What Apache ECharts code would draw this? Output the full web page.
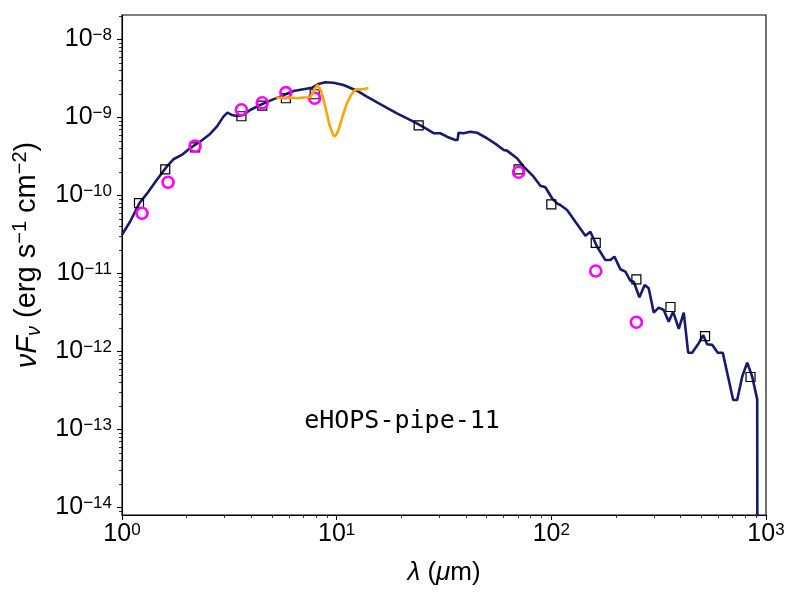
<!DOCTYPE html>
<html>
<head>
<meta charset="utf-8">
<script src="https://cdn.jsdelivr.net/npm/echarts@6/dist/echarts.min.js"></script>
<style>html,body{margin:0;padding:0;background:#fff}#c{width:800px;height:600px}</style>
</head>
<body>
<div id="c"></div>
<script>
// Model SED (navy line): wavelength (micron) and nuFnu (erg s^-1 cm^-2)
const modelWave = [1.0,1.09,1.204,1.304,1.451,1.616,1.735,1.898,2.075,2.31,2.572,2.764,2.968,3.097,3.246,3.425,3.678,3.951,4.399,4.898,5.453,6.289,7.002,7.66,8.228,8.84,9.663,10.76,12.43,13.83,15.95,19.09,22.8,25.4,28.27,30.38,32.65,35.68,36.58,36.97,39.0,41.92,45.04,50.14,55.84,59.93,62.15,69.2,74.3,82.7,88.9,93.8,100.8,106.3,110.1,118.4,129.4,144.1,152.0,163.4,178.6,188.4,196.7,209.8,221.3,233.5,242.0,257.2,272.3,284.2,299.9,316.4,333.9,352.3,369.3,392.4,413.9,433.9,452.9,486.1,509.6,531.9,561.4,596.2,629.0,703.3,734.1,774.5,817.5,862.6,910.0,913.0];
const modelFlux = [3.15e-11,4.62e-11,7.96e-11,1.05e-10,1.585e-10,2.35e-10,2.92e-10,3.32e-10,4.04e-10,4.91e-10,6.17e-10,7.64e-10,1.028e-9,1.156e-9,1.08e-9,1.05e-9,1.08e-9,1.25e-9,1.45e-9,1.65e-9,1.855e-9,2.19e-9,2.31e-9,2.41e-9,2.70e-9,2.84e-9,2.80e-9,2.62e-9,2.21e-9,1.855e-9,1.49e-9,1.135e-9,8.85e-10,7.52e-10,6.30e-10,6.30e-10,5.69e-10,5.16e-10,5.16e-10,6.40e-10,6.30e-10,6.59e-10,6.40e-10,5.43e-10,4.46e-10,3.85e-10,3.77e-10,3.01e-10,2.35e-10,1.746e-10,1.34e-10,1.277e-10,9.23e-11,7.96e-11,7.57e-11,6.53e-11,4.62e-11,3.06e-11,3.44e-11,2.21e-11,1.49e-11,1.49e-11,1.65e-11,1.135e-11,1.057e-11,8.11e-12,7.87e-12,4.97e-12,7.15e-12,6.49e-12,3.16e-12,3.66e-12,3.41e-12,2.42e-12,3.25e-12,1.95e-12,3.16e-12,9.68e-13,9.68e-13,1.28e-12,1.63e-12,1.24e-12,1.22e-12,9.68e-13,9.68e-13,2.39e-13,2.39e-13,4.76e-13,7.21e-13,4.76e-13,2.44e-13,1e-16];

// IRS spectrum (orange line)
const irsWave = [5.21,5.65,6.07,6.52,6.98,7.52,7.77,7.94,8.14,8.33,8.53,8.74,9.0,9.23,9.50,9.73,9.95,10.2,10.5,10.76,11.13,11.56,11.94,12.33,12.87,13.34,13.73,14.07];
const irsFlux = [1.82e-9,1.77e-9,1.81e-9,1.77e-9,1.81e-9,1.82e-9,2.07e-9,2.38e-9,2.62e-9,2.39e-9,2.05e-9,1.585e-9,1.135e-9,8.28e-10,6.59e-10,5.73e-10,5.98e-10,6.93e-10,9.04e-10,1.135e-9,1.49e-9,1.855e-9,2.13e-9,2.31e-9,2.30e-9,2.31e-9,2.36e-9,2.39e-9];

// Model photometry (black squares)
const sqWave = [1.20,1.59,2.19,3.6,4.5,5.8,7.9,24.1,70.4,100,161,249,359,520,847];
const sqFlux = [8.0e-11,2.17e-10,4.16e-10,1.04e-9,1.42e-9,1.77e-9,1.99e-9,7.96e-10,2.17e-10,7.7e-11,2.47e-11,8.45e-12,3.73e-12,1.58e-12,4.72e-13];

// Observed photometry (magenta circles)
const obsWave = [1.24,1.64,2.19,3.6,4.5,5.8,7.9,70.4,161,249];
const obsFlux = [5.93e-11,1.48e-10,4.33e-10,1.26e-9,1.55e-9,2.09e-9,1.77e-9,1.99e-10,1.08e-11,2.38e-12];

// Axis decades (log10)
const xDecades = [0,1,2,3];
const yDecades = [-14,-13,-12,-11,-10,-9,-8];
const xRange = [0, 3];
const yRange = [-14.095, -7.685];

const L = Math.log10;
const pairs = (xs, ys) => xs.map((x, i) => [L(x), L(ys[i])]);

function minorTicks(lo, hi) {
  const out = [];
  for (let d = Math.floor(lo) - 1; d <= Math.ceil(hi); d++) {
    for (let k = 2; k <= 9; k++) {
      const v = d + L(k);
      if (v > lo && v < hi) out.push(v);
    }
  }
  return out;
}

const FONT = '"Liberation Sans", Arial, Helvetica, sans-serif';
const richTick = {
  b: { fontSize: 25, fontFamily: FONT, color: '#000', lineHeight: 25 },
  s: { fontSize: 17, fontFamily: FONT, color: '#000', verticalAlign: 'top', lineHeight: 17 }
};

const chart = echarts.init(document.getElementById('c'), null, { renderer: 'canvas' });
chart.setOption({
  animation: false,
  backgroundColor: '#fff',
  grid: { left: 122, top: 15, width: 644, height: 500, show: true, borderColor: '#000', borderWidth: 1.1, backgroundColor: 'transparent', containLabel: false },
  xAxis: [
    {
      type: 'value', min: xRange[0], max: xRange[1], position: 'bottom',
      axisLine: { show: true, lineStyle: { color: '#000', width: 1.1 } },
      axisTick: { show: true, customValues: xDecades, length: 5, lineStyle: { color: '#000', width: 1.1 } },
      axisLabel: { show: true, customValues: xDecades, margin: 7, formatter: v => '{b|10}{s|' + v + '}', rich: richTick },
      splitLine: { show: false },
      name: '{i|λ}{t| (}{i|μ}{t|m)}', nameLocation: 'middle', nameGap: 45,
      nameTextStyle: { rich: {
        i: { fontSize: 26, fontFamily: FONT, fontStyle: 'italic', color: '#000' },
        t: { fontSize: 26, fontFamily: FONT, color: '#000' } } }
    },
    {
      type: 'value', min: xRange[0], max: xRange[1], position: 'bottom', gridIndex: 0,
      axisLine: { show: false },
      axisTick: { show: true, customValues: minorTicks(xRange[0], xRange[1]), length: 3, lineStyle: { color: '#000', width: 0.8 } },
      axisLabel: { show: false }, splitLine: { show: false }
    }
  ],
  yAxis: [
    {
      type: 'value', min: yRange[0], max: yRange[1], position: 'left',
      axisLine: { show: true, lineStyle: { color: '#000', width: 1.1 } },
      axisTick: { show: true, customValues: yDecades, length: 5, lineStyle: { color: '#000', width: 1.1 } },
      axisLabel: { show: true, customValues: yDecades, margin: 10, formatter: v => '{b|10}{s|−' + Math.abs(v) + '}', rich: richTick },
      splitLine: { show: false },
      name: '{i|νF}{sub|ν}{t| (erg s}{sup|−1}{t| cm}{sup|−2}{t|)}', nameLocation: 'middle', nameGap: 68, nameRotate: 90,
      nameTextStyle: { padding: [0, 0, 0, 20], rich: {
        i: { fontSize: 29, fontFamily: FONT, fontStyle: 'italic', color: '#000', lineHeight: 34 },
        sub: { fontSize: 20, fontFamily: FONT, fontStyle: 'italic', color: '#000', verticalAlign: 'bottom', lineHeight: 20 },
        t: { fontSize: 29, fontFamily: FONT, color: '#000', lineHeight: 34 },
        sup: { fontSize: 20, fontFamily: FONT, color: '#000', verticalAlign: 'top', lineHeight: 20 } } }
    },
    {
      type: 'value', min: yRange[0], max: yRange[1], position: 'left', gridIndex: 0,
      axisLine: { show: false },
      axisTick: { show: true, customValues: minorTicks(yRange[0], yRange[1]), length: 3, lineStyle: { color: '#000', width: 0.8 } },
      axisLabel: { show: false }, splitLine: { show: false }
    }
  ],
  graphic: [{
    type: 'text', x: 402, y: 421,
    style: { text: 'eHOPS-pipe-11', font: '25px "DejaVu Sans Mono", monospace', fill: '#000', textAlign: 'center', textVerticalAlign: 'middle' },
    z: 100
  }],
  series: [
    {
      type: 'line', name: 'model', xAxisIndex: 0, yAxisIndex: 0, data: pairs(modelWave, modelFlux),
      showSymbol: false, symbol: 'none', clip: true, z: 2,
      lineStyle: { color: '#191970', width: 2.6 }
    },
    {
      type: 'scatter', name: 'model phot', xAxisIndex: 0, yAxisIndex: 0, data: pairs(sqWave, sqFlux),
      symbol: 'rect', symbolSize: 9, z: 3,
      itemStyle: { color: 'rgba(255,255,255,0)', borderColor: '#000', borderWidth: 1.2, opacity: 1 }
    },
    {
      type: 'scatter', name: 'obs phot', xAxisIndex: 0, yAxisIndex: 0, data: pairs(obsWave, obsFlux),
      symbol: 'circle', symbolSize: 11, z: 4,
      itemStyle: { color: 'rgba(255,255,255,0)', borderColor: '#ff00ff', borderWidth: 2.6, opacity: 1 }
    },
    {
      type: 'line', name: 'IRS', xAxisIndex: 0, yAxisIndex: 0, data: pairs(irsWave, irsFlux),
      showSymbol: false, symbol: 'none', clip: true, z: 5,
      lineStyle: { color: '#ffa500', width: 2.6 }
    }
  ]
});
</script>
</body>
</html>
